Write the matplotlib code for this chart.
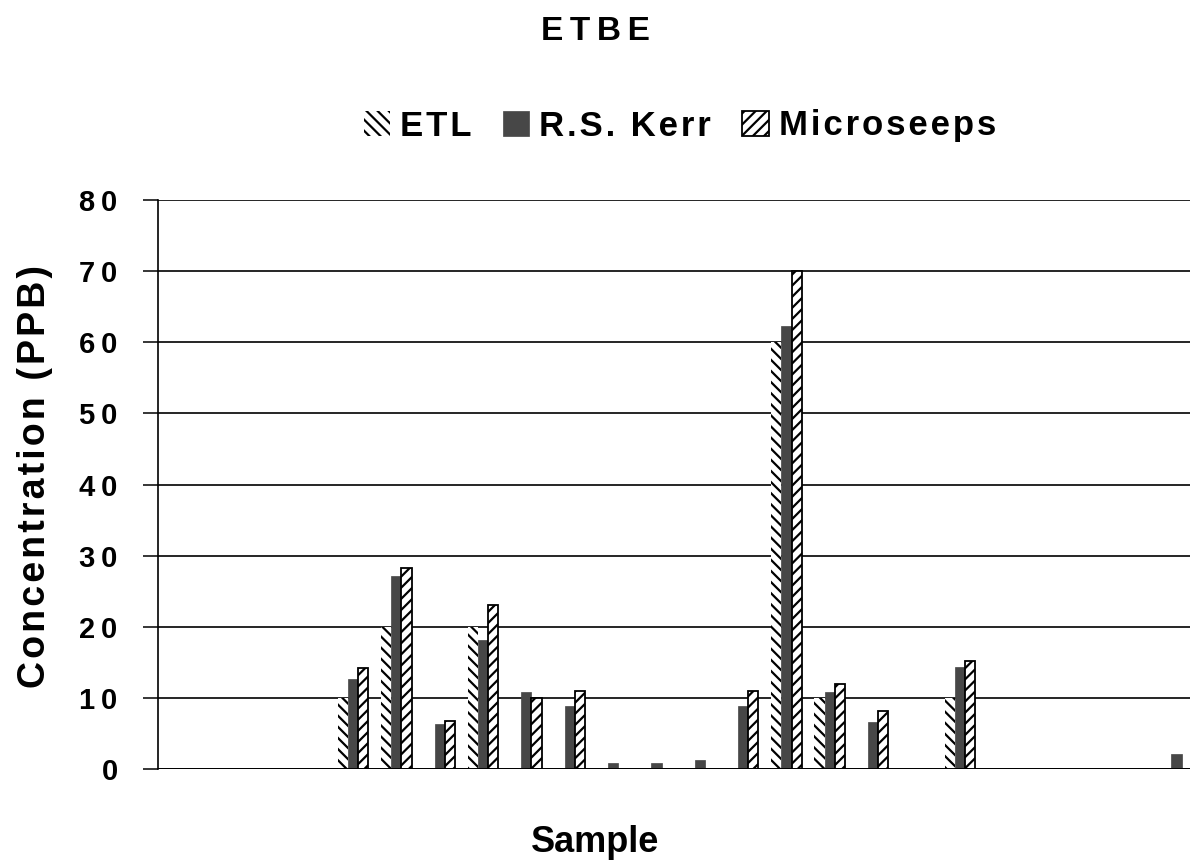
import numpy as np
import matplotlib.pyplot as plt

# ETBE concentrations (PPB) for 24 sample positions, 0 = no bar
samples = list(range(24))
etl = [0, 0, 0, 0, 10, 20, 0, 20, 0, 0, 0, 0, 0, 0, 60, 10, 0, 0, 10, 0, 0, 0, 0, 0]
rs_kerr = [0, 0, 0, 0, 12.6, 27.1, 6.3, 18.2, 10.8, 8.9, 0.8, 0.8, 1.3, 8.9, 62.3, 10.8, 6.6, 0, 14.3, 0, 0, 0, 0, 2.1]
microseeps = [0, 0, 0, 0, 14.2, 28.3, 6.8, 23.0, 10.0, 11.0, 0, 0, 0, 11.0, 70.0, 12.0, 8.2, 0, 15.2, 0, 0, 0, 0, 0]
series_names = ['ETL', 'R.S. Kerr', 'Microseeps']
yticks = [0, 10, 20, 30, 40, 50, 60, 70, 80]


def spaced(s, sp='\u2009'):
    # excel-style wide letter tracking
    return sp.join(s)


plt.rcParams['font.family'] = ['Liberation Sans', 'DejaVu Sans']
plt.rcParams['hatch.linewidth'] = 1.6
plt.rcParams['hatch.color'] = 'black'

fig = plt.figure(figsize=(11.9, 8.67), dpi=100)
ax = fig.add_axes([158 / 1190, 98 / 867, 1 - 158 / 1190, 569 / 867])

x = np.array(samples)
w = 0.235
ax.bar(x - w, etl, w, facecolor='white', edgecolor='black', linewidth=0,
       hatch='\\\\\\', label=spaced(series_names[0], '\u200a'), zorder=3)
ax.bar(x, rs_kerr, w, facecolor='#474747', edgecolor='#474747', linewidth=0.5,
       label=spaced(series_names[1], '\u200a'), zorder=3)
ax.bar(x + w, microseeps, w, facecolor='white', edgecolor='black', linewidth=1.3,
       hatch='///', label=spaced(series_names[2], '\u200a'), zorder=3)

ax.set_xlim(-0.5, -0.5 + (1190 - 158) / 43.34)
ax.set_ylim(0, 80)
ax.set_yticks(yticks)
ax.set_yticklabels([spaced(str(t)) for t in yticks], fontsize=21, fontweight='bold')
ax.set_xticks([])
ax.tick_params(axis='y', length=11, width=1.1, pad=18, color='black')
ax.yaxis.grid(True, color='black', linewidth=1.2)
ax.set_axisbelow(True)
for s in ['top', 'right', 'bottom']:
    ax.spines[s].set_visible(False)
ax.spines['left'].set_linewidth(1.2)
ax.axhline(0, color='black', linewidth=1.4, zorder=4)

fig.text(0.5, 1 - 32 / 867, spaced('ETBE'), ha='center', va='center',
         fontsize=24, fontweight='bold')
fig.text(0.029, 1 - 477 / 867, spaced('Concentration (PPB)', '\u200a'), rotation=90,
         ha='center', va='center', fontsize=27, fontweight='bold')
fig.text(0.5, 24 / 867, 'Sample', ha='center', va='center',
         fontsize=26, fontweight='bold')

fig.legend(loc='center', bbox_to_anchor=(680 / 1190, 1 - 126 / 867), ncol=3,
           frameon=False, prop={'size': 25, 'weight': 'bold'},
           handlelength=0.75, handleheight=0.75, handletextpad=0.3,
           columnspacing=0.9)

fig.savefig('out.png', dpi=100)
